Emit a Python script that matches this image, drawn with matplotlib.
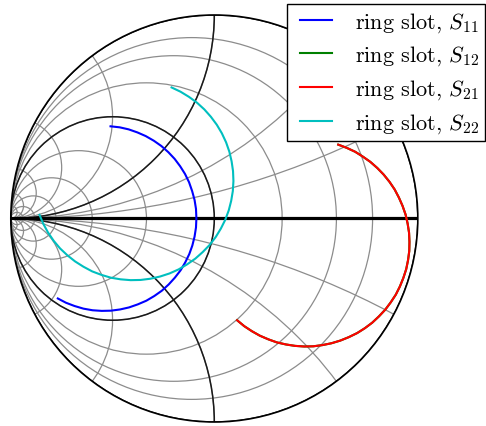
import matplotlib
matplotlib.use("Agg")
import matplotlib.pyplot as plt
from matplotlib.patches import Circle
from matplotlib.lines import Line2D
from matplotlib.legend_handler import HandlerLine2D

plt.rcParams['font.family'] = ['cmr10', 'DejaVu Serif']
plt.rcParams['mathtext.fontset'] = 'cm'
plt.rcParams['axes.formatter.use_mathtext'] = True

# Measured S-parameters of the ring slot (complex plane, real / imaginary parts)
s11_re = [-0.510, -0.465, -0.421, -0.378, -0.337, -0.297, -0.260, -0.226, -0.195, -0.168,
          -0.144, -0.124, -0.109, -0.097, -0.090, -0.088, -0.090, -0.097, -0.108, -0.123,
          -0.143, -0.166, -0.194, -0.224, -0.258, -0.295, -0.334, -0.376, -0.419, -0.463,
          -0.508, -0.553, -0.598, -0.643, -0.687, -0.729, -0.769]
s11_im = [0.453, 0.448, 0.438, 0.423, 0.405, 0.382, 0.356, 0.326, 0.293, 0.257,
          0.219, 0.178, 0.135, 0.091, 0.047, 0.001, -0.044, -0.089, -0.133, -0.175,
          -0.216, -0.255, -0.291, -0.324, -0.355, -0.381, -0.404, -0.422, -0.437, -0.447,
          -0.453, -0.454, -0.451, -0.443, -0.430, -0.414, -0.393]

s21_re = [0.609, 0.651, 0.692, 0.730, 0.767, 0.801, 0.832, 0.861, 0.886, 0.907,
          0.925, 0.940, 0.950, 0.957, 0.959, 0.958, 0.952, 0.943, 0.929, 0.912,
          0.892, 0.867, 0.840, 0.809, 0.776, 0.740, 0.702, 0.661, 0.619, 0.576,
          0.532, 0.487, 0.442, 0.397, 0.352, 0.308, 0.266, 0.224, 0.185, 0.147, 0.112]
s21_im = [0.363, 0.347, 0.328, 0.304, 0.278, 0.248, 0.216, 0.180, 0.143, 0.103,
          0.062, 0.019, -0.025, -0.070, -0.115, -0.160, -0.205, -0.249, -0.292, -0.334,
          -0.374, -0.412, -0.448, -0.481, -0.512, -0.539, -0.563, -0.583, -0.600, -0.613,
          -0.622, -0.628, -0.629, -0.626, -0.619, -0.609, -0.594, -0.576, -0.554, -0.529, -0.500]

# reciprocal network: S12 equals S21
s12_re = list(s21_re)
s12_im = list(s21_im)

s22_re = [-0.859, -0.840, -0.817, -0.789, -0.758, -0.722, -0.684, -0.643, -0.600, -0.555,
          -0.508, -0.460, -0.411, -0.362, -0.314, -0.266, -0.220, -0.175, -0.133, -0.093,
          -0.057, -0.023, 0.007, 0.032, 0.054, 0.071, 0.083, 0.091, 0.094, 0.092,
          0.085, 0.074, 0.058, 0.037, 0.012, -0.017, -0.049, -0.085, -0.125, -0.166, -0.210]
s22_im = [0.018, -0.027, -0.069, -0.110, -0.147, -0.181, -0.211, -0.237, -0.260, -0.277,
          -0.291, -0.299, -0.303, -0.302, -0.296, -0.285, -0.270, -0.250, -0.225, -0.197,
          -0.165, -0.130, -0.091, -0.050, -0.006, 0.040, 0.087, 0.135, 0.184, 0.233,
          0.281, 0.328, 0.374, 0.419, 0.461, 0.500, 0.536, 0.569, 0.598, 0.623, 0.644]

labels = ['ring slot, $S_{11}$', 'ring slot, $S_{12}$',
          'ring slot, $S_{21}$', 'ring slot, $S_{22}$']
colors = ['b', 'g', 'r', 'c']

# Admittance-chart grid values
r_light = [0.125, 0.25, 0.5, 1, 2, 4, 8, 16, 32]
x_light = [0.25, 0.5, 1, 2, 4, 8, 16, 32, -0.25, -0.5, -1, -2, -4, -8, -16, -32]
r_heavy = [0, 1]
x_heavy = [1, -1]

fig = plt.figure(figsize=(4.86, 4.27), dpi=100)
ax = fig.add_axes([0, 0, 1, 1])
ax.set_xlim(-1.0531, 1.3351)
ax.set_ylim(-1.0197, 1.0786)
ax.axis('off')

clip = Circle((0, 0), 1.0, ec='k', fc='none', lw=1.2, zorder=1.5)
ax.add_patch(clip)


def contour(center, radius, color, lw):
    c = Circle(center, radius, ec=color, fc='none', lw=lw)
    ax.add_patch(c)
    c.set_clip_path(clip)


for r in r_light:
    contour((-r / (1.0 + r), 0.0), 1.0 / (1.0 + r), '#8c8c8c', 0.9)
for x in x_light:
    contour((-1.0, 1.0 / x), abs(1.0 / x), '#8c8c8c', 0.9)
for r in r_heavy:
    contour((-r / (1.0 + r), 0.0), 1.0 / (1.0 + r), '#1a1a1a', 1.1)
for x in x_heavy:
    contour((-1.0, 1.0 / x), abs(1.0 / x), '#1a1a1a', 1.1)

hl = ax.axhline(0, color='k', lw=2.3)
hl.set_clip_path(clip)

series = [(s11_re, s11_im), (s12_re, s12_im), (s21_re, s21_im), (s22_re, s22_im)]
for (re, im), lab, col in zip(series, labels, colors):
    ax.plot(re, im, color=col, lw=1.5, label=lab, zorder=3)

ax.legend(loc='upper right', bbox_to_anchor=(485 / 486, 1 - 5 / 427),
          bbox_transform=fig.transFigure, borderaxespad=0, fancybox=False,
          edgecolor='k', framealpha=1, fontsize=16, handlelength=1.76,
          handletextpad=1.03, borderpad=0.27, labelspacing=0.45,
          handler_map={Line2D: HandlerLine2D(xpad=0.35)})

fig.savefig('out.png', dpi=100)
